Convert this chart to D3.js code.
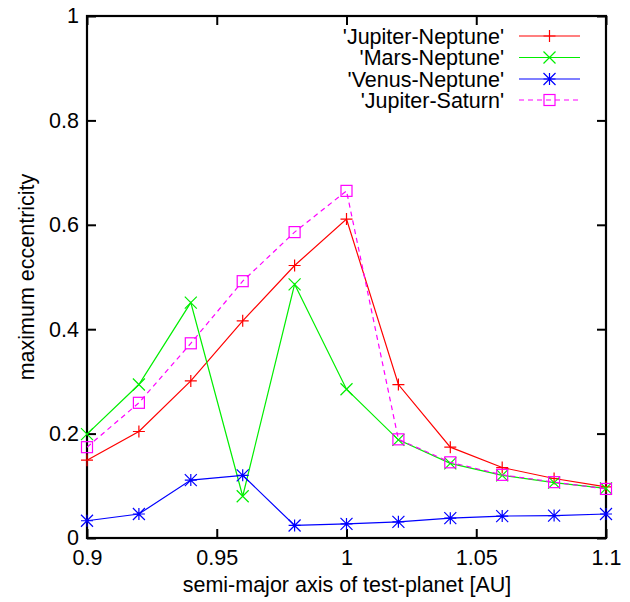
<!DOCTYPE html>
<html>
<head>
<meta charset="utf-8">
<script src="https://cdn.jsdelivr.net/npm/d3@7"></script>
<style>
  html, body { margin: 0; padding: 0; background: #fff; }
  svg { display: block; }
  text { font-family: "Liberation Sans", Arial, Helvetica, sans-serif; fill: #000; }
</style>
</head>
<body>
<svg id="chart" width="630" height="602"></svg>
<script>
// Semi-major axis of the test planet [AU]
const semiMajor = [0.90, 0.92, 0.94, 0.96, 0.98, 1.00, 1.02, 1.04, 1.06, 1.08, 1.10];

// Maximum eccentricity reached for each perturbing pair
const jupiterNeptune = [0.149, 0.204, 0.301, 0.416, 0.522, 0.611, 0.294, 0.174, 0.135, 0.114, 0.098];
const marsNeptune    = [0.199, 0.294, 0.451, 0.080, 0.486, 0.285, 0.188, 0.143, 0.120, 0.106, 0.095];
const venusNeptune   = [0.033, 0.046, 0.111, 0.120, 0.024, 0.027, 0.031, 0.038, 0.042, 0.043, 0.046];
const jupiterSaturn  = [0.174, 0.259, 0.373, 0.492, 0.586, 0.665, 0.189, 0.145, 0.121, 0.107, 0.094];

const xTicks = [0.9, 0.95, 1, 1.05, 1.1];
const yTicks = [0, 0.2, 0.4, 0.6, 0.8, 1];

const seriesNames  = ["'Jupiter-Neptune'", "'Mars-Neptune'", "'Venus-Neptune'", "'Jupiter-Saturn'"];
const seriesValues = [jupiterNeptune, marsNeptune, venusNeptune, jupiterSaturn];
const seriesColors = ["#ff0000", "#00ee00", "#0000ff", "#ff00ff"];
const seriesMarks  = ["plus", "cross", "star", "square"];
const seriesDash   = [null, null, null, "5,4"];

const svg = d3.select("#chart");
const plotLeft = 87, plotRight = 606, plotTop = 16, plotBottom = 538;
const fontSize = "21.5px";

const x = d3.scaleLinear().domain([0.9, 1.1]).range([plotLeft, plotRight]);
const y = d3.scaleLinear().domain([0, 1]).range([plotBottom, plotTop]);

const fmt = d => String(+d.toFixed(2));
const tickLen = 9;

// Axes with inward ticks on all four sides
const axes = svg.append("g");
axes.append("g").attr("transform", `translate(0,${plotBottom})`)
  .call(d3.axisBottom(x).tickValues(xTicks).tickFormat(fmt).tickSizeInner(-tickLen).tickSizeOuter(0).tickPadding(12));
axes.append("g").attr("transform", `translate(0,${plotTop})`)
  .call(d3.axisTop(x).tickValues(xTicks).tickFormat("").tickSizeInner(-tickLen).tickSizeOuter(0));
axes.append("g").attr("transform", `translate(${plotLeft},0)`)
  .call(d3.axisLeft(y).tickValues(yTicks).tickFormat(fmt).tickSizeInner(-tickLen).tickSizeOuter(0).tickPadding(8));
axes.append("g").attr("transform", `translate(${plotRight},0)`)
  .call(d3.axisRight(y).tickValues(yTicks).tickFormat("").tickSizeInner(-tickLen).tickSizeOuter(0));

axes.selectAll(".domain").remove();
axes.selectAll(".tick line").attr("stroke", "#000").attr("stroke-width", 2);
axes.selectAll(".tick text").style("font-size", fontSize)
  .style("font-family", "'Liberation Sans', Arial, sans-serif").attr("fill", "#000");

// Frame
svg.append("rect")
  .attr("x", plotLeft).attr("y", plotTop)
  .attr("width", plotRight - plotLeft).attr("height", plotBottom - plotTop)
  .attr("fill", "none").attr("stroke", "#000").attr("stroke-width", 2.2);

// Marker glyphs
function drawMark(g, kind, cx, cy, color) {
  const s = 6;
  if (kind === "plus") {
    g.append("path").attr("d", `M${cx - s},${cy}H${cx + s}M${cx},${cy - s}V${cy + s}`)
      .attr("stroke", color).attr("stroke-width", 1.2).attr("fill", "none");
  } else if (kind === "cross") {
    g.append("path").attr("d", `M${cx - s},${cy - s}L${cx + s},${cy + s}M${cx - s},${cy + s}L${cx + s},${cy - s}`)
      .attr("stroke", color).attr("stroke-width", 1.2).attr("fill", "none");
  } else if (kind === "star") {
    g.append("path").attr("d",
      `M${cx - s},${cy}H${cx + s}M${cx},${cy - s}V${cy + s}` +
      `M${cx - s},${cy - s}L${cx + s},${cy + s}M${cx - s},${cy + s}L${cx + s},${cy - s}`)
      .attr("stroke", color).attr("stroke-width", 1.2).attr("fill", "none");
  } else if (kind === "square") {
    g.append("rect").attr("x", cx - 5.5).attr("y", cy - 5.5).attr("width", 11).attr("height", 11)
      .attr("stroke", color).attr("stroke-width", 1.2).attr("fill", "none");
  }
}

const line = d3.line().x(d => x(d[0])).y(d => y(d[1]));

seriesValues.forEach((vals, i) => {
  const pts = semiMajor.map((a, j) => [a, vals[j]]);
  const g = svg.append("g");
  g.append("path").datum(pts).attr("d", line)
    .attr("fill", "none").attr("stroke", seriesColors[i]).attr("stroke-width", 1.2)
    .attr("stroke-dasharray", seriesDash[i]);
  pts.forEach(p => drawMark(g, seriesMarks[i], x(p[0]), y(p[1]), seriesColors[i]));
});

// Legend
const legend = svg.append("g");
const legendRows = [36, 57.5, 79, 100];
seriesNames.forEach((name, i) => {
  const ly = legendRows[i];
  legend.append("text").attr("x", 504).attr("y", ly).attr("dy", "0.35em")
    .attr("text-anchor", "end").style("font-size", fontSize).text(name);
  legend.append("line").attr("x1", 519).attr("x2", 580).attr("y1", ly).attr("y2", ly)
    .attr("stroke", seriesColors[i]).attr("stroke-width", 1.2)
    .attr("stroke-dasharray", seriesDash[i]);
  drawMark(legend, seriesMarks[i], 549.5, ly, seriesColors[i]);
});

// Axis titles
svg.append("text").attr("x", 347).attr("y", 592)
  .attr("text-anchor", "middle").style("font-size", fontSize)
  .text("semi-major axis of test-planet [AU]");
svg.append("text").attr("transform", `translate(34,277) rotate(-90)`)
  .attr("text-anchor", "middle").style("font-size", fontSize)
  .text("maximum eccentricity");
</script>
</body>
</html>
